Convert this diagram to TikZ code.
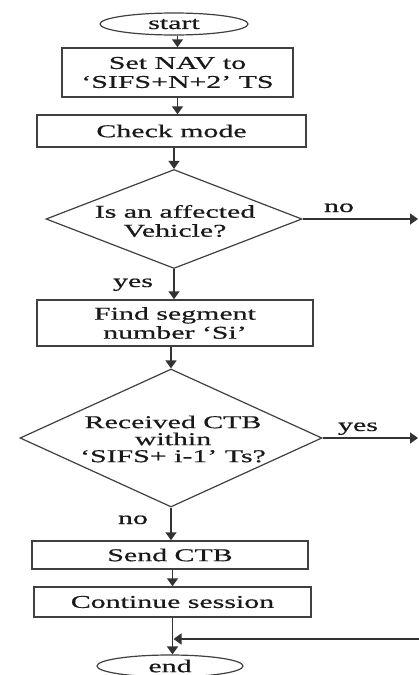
\documentclass[tikz,border=0pt]{standalone}
\usepackage{fontspec}
\setmainfont{Liberation Serif}[FakeStretch=1.66,FakeBold=0.6]
\usetikzlibrary{shapes.geometric,arrows.meta}
\begin{document}
\begin{tikzpicture}[x=1pt,y=-1pt,
  every node/.style={font=\fontsize{18}{19}\selectfont, text=black!90},
  box/.style={draw=black!75, line width=1.5pt, rectangle, inner sep=0pt, align=center},
  term/.style={draw=black!75, line width=1.2pt, ellipse, inner sep=0pt},
  decision/.style={draw=black!75, line width=1.2pt, diamond, inner sep=0pt},
  txt/.style={align=center, inner sep=0pt},
  arr/.style={draw=black!80, line width=1.6pt, -{Triangle[length=8pt,width=11pt]}},
  tag/.style={anchor=base, inner sep=0pt}]

% page
\fill[white] (0,0) rectangle (419,675);
\useasboundingbox (0,0) rectangle (419,675);

% flow chart blocks
\node[term, minimum width=148pt, minimum height=22pt] (start) at (174,24) {start};
\node[box, minimum width=231pt, minimum height=49pt] (nav) at (177.5,72.5)
  {Set NAV to\\‘SIFS+N+2’ TS};
\node[box, minimum width=269pt, minimum height=32pt] (chk) at (171.5,131) {Check mode};
\node[decision, minimum width=256pt, minimum height=99pt] (d1) at (174,219) {};
\node[txt] (d1txt) at (175,221) {Is an affected\\Vehicle?};
\node[box, minimum width=276pt, minimum height=46pt] (find) at (175,323)
  {Find segment\\number ‘Si’};
\node[decision, minimum width=302pt, minimum height=138pt] (d2) at (171,438) {};
\node[txt, font=\fontsize{18}{17}\selectfont] (d2txt) at (173,439)
  {Received CTB\\within\\‘SIFS+ i-1’ Ts?};
\node[box, minimum width=276pt, minimum height=28pt] (send) at (170,555) {Send CTB};
\node[box, minimum width=277pt, minimum height=30pt] (cont) at (172.5,602) {Continue session};
\node[term, minimum width=146pt, minimum height=22pt] (end) at (170,666) {end};

% branch labels
\node[tag] (no1) at (339,212) {no};
\node[tag] (yes1) at (133,287) {yes};
\node[tag] (yes2) at (358,431) {yes};
\node[tag] (no2) at (133,524) {no};

% free ends of the side branches
\coordinate (noout) at (d1.east -| 418,0);
\coordinate (yesout) at (d2.east -| 418,0);
\coordinate (fbin) at (419,639);
\coordinate (merge) at (cont.south |- fbin);

% connectors
\draw[arr] (nav.north |- start.south) -- (nav.north);
\draw[arr] (nav.south) -- (nav.south |- chk.north);
\draw[arr] (chk.south -| d1.north) -- (d1.north);
\draw[arr] (d1.south) -- (d1.south |- find.north);
\draw[arr] (find.south -| d2.north) -- (d2.north);
\draw[arr] (d2.south) -- (d2.south |- send.north);
\draw[arr] (cont.north |- send.south) -- (cont.north);
\draw[arr] (cont.south) -- (cont.south |- end.north);
\draw[arr] (d1.east) -- (noout);
\draw[arr] (d2.east) -- (yesout);
\draw[arr] (fbin) -- ([xshift=1pt]merge);
\end{tikzpicture}
\end{document}
